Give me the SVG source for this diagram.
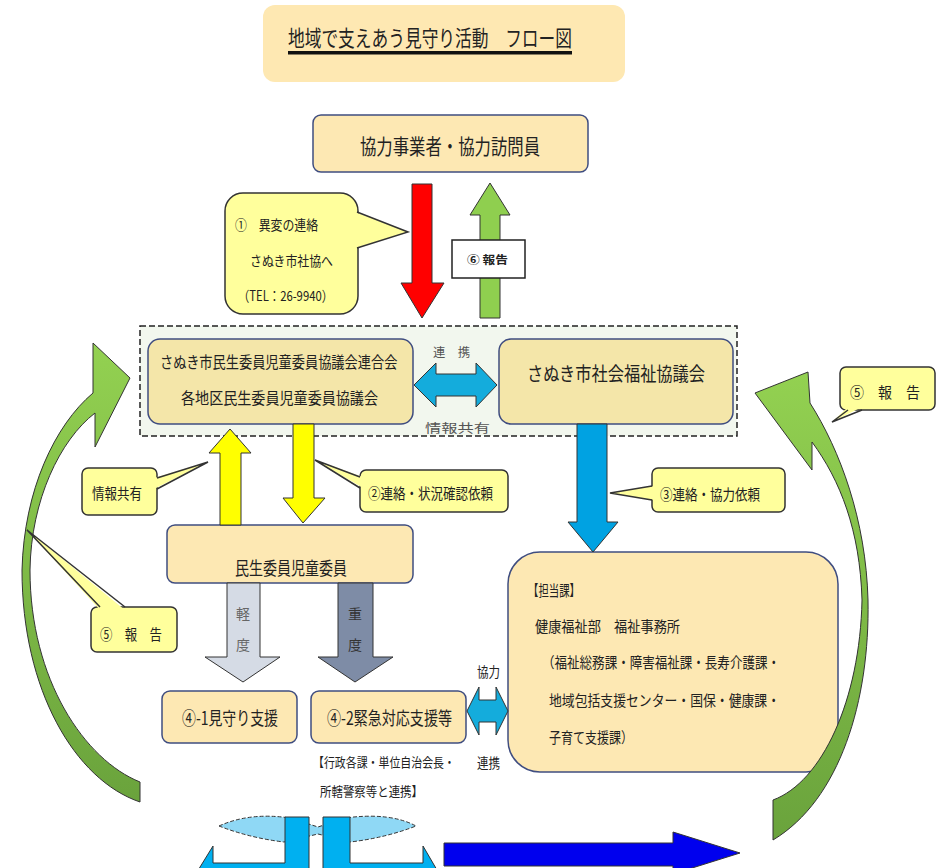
<svg xmlns="http://www.w3.org/2000/svg" width="936" height="868" viewBox="0 0 936 868">
<defs>
<linearGradient id="gr" x1="0" y1="0" x2="0" y2="1">
<stop offset="0" stop-color="#93d151"/>
<stop offset="1" stop-color="#6aa33c"/>
</linearGradient>
<style>
text{font-family:"Noto Sans CJK JP","Noto Sans CJK SC",sans-serif;fill:#222;}
.node{fill:#fde8b3;stroke:#3f4d80;stroke-width:1.5;}
.node2{fill:#f4e6a9;stroke:#3f4d80;stroke-width:1.5;}
.cf{fill:#ffff9c;stroke:none;}
.cr{fill:#ffff9c;stroke:#333;stroke-width:1.5;}
.cs{fill:none;stroke:#333;stroke-width:1.5;}
.ar{stroke:#333;stroke-width:1;}
</style>
</defs>
<rect width="936" height="868" fill="#ffffff"/>

<g id="title">
<rect x="263" y="5" width="362" height="77" rx="12" fill="#fee8b2"/>
<text x="288" y="46" font-size="22" textLength="284" lengthAdjust="spacingAndGlyphs">地域で支えあう見守り活動　フロー図</text>
<rect x="288" y="51" width="284" height="3.5" fill="#111"/>
</g>

<g id="container">
<rect x="140" y="326" width="597" height="110" fill="#f2f7ee" stroke="#222" stroke-width="1.5" stroke-dasharray="6 3"/>
</g>

<g id="node-kyoryoku">
<rect class="node" x="313" y="115" width="275" height="57" rx="8"/>
<text x="360" y="154" font-size="21" textLength="180" lengthAdjust="spacingAndGlyphs">協力事業者・協力訪問員</text>
</g>

<g id="node-minsei-kyogikai">
<rect class="node2" x="148" y="339" width="265" height="85" rx="12"/>
<text transform="translate(160,368) scale(0.826,1)" font-size="16">さぬき市民生委員児童委員協議会連合会</text>
<text x="181" y="404" font-size="16" textLength="197" lengthAdjust="spacingAndGlyphs">各地区民生委員児童委員協議会</text>
</g>

<g id="node-shakyo">
<rect class="node2" x="499" y="339" width="234" height="85" rx="12"/>
<text x="527" y="381" font-size="19" textLength="178" lengthAdjust="spacingAndGlyphs">さぬき市社会福祉協議会</text>
</g>

<g id="node-minsei">
<rect class="node" x="167" y="525" width="246" height="58" rx="8"/>
<text x="235" y="575" font-size="18" textLength="112" lengthAdjust="spacingAndGlyphs">民生委員児童委員</text>
</g>

<g id="node-mimamori">
<rect class="node" x="162" y="691" width="135" height="52" rx="8"/>
<text x="182" y="725" font-size="18" textLength="96" lengthAdjust="spacingAndGlyphs">④-1見守り支援</text>
</g>

<g id="node-kinkyu">
<rect class="node" x="311" y="691" width="155" height="52" rx="8"/>
<text x="327" y="725" font-size="18" textLength="125" lengthAdjust="spacingAndGlyphs">④-2緊急対応支援等</text>
<text transform="translate(313,767) scale(0.84,1)" font-size="13">【行政各課・単位自治会長・</text>
<text x="320" y="796" font-size="13" textLength="103" lengthAdjust="spacingAndGlyphs">所轄警察等と連携】</text>
</g>

<g id="node-tanto">
<rect class="node" x="508" y="552" width="330" height="220" rx="32"/>
<text x="528" y="596" font-size="15" textLength="52" lengthAdjust="spacingAndGlyphs">【担当課】</text>
<text x="535" y="632" font-size="15" textLength="145" lengthAdjust="spacingAndGlyphs">健康福祉部　福祉事務所</text>
<text x="542" y="668" font-size="15" textLength="238" lengthAdjust="spacingAndGlyphs">（福祉総務課・障害福祉課・長寿介護課・</text>
<text x="549" y="706" font-size="15" textLength="231" lengthAdjust="spacingAndGlyphs">地域包括支援センター・国保・健康課・</text>
<text x="549" y="743" font-size="15" textLength="84" lengthAdjust="spacingAndGlyphs">子育て支援課）</text>
</g>

<g id="connectors">
<polygon class="ar" fill="#ff0000" points="412,184 432,184 432,283 444,283 422,318 401,283 412,283"/>
<polygon class="ar" fill="#8fcf4f" points="490,183 510,215 500,215 500,318 480,318 480,215 470,215"/>
<rect x="452" y="240" width="73" height="38" fill="#ffffff" stroke="#222" stroke-width="1.5"/>
<text x="467" y="264" font-size="11" font-weight="bold" textLength="41" lengthAdjust="spacingAndGlyphs">⑥ 報告</text>
<polygon class="ar" fill="#14acdc" points="414,385 436,363 436,374 476,374 476,363 497,385 476,407 476,396 436,396 436,407"/>
<text x="433" y="357" font-size="12" textLength="37" lengthAdjust="spacingAndGlyphs" style="fill:#555">連　携</text>
<text x="425" y="433" font-size="12" textLength="65" lengthAdjust="spacingAndGlyphs" style="fill:#555">情報共有</text>
<polygon class="ar" fill="#ffff00" points="230,429 251,453 241,453 241,525 220,525 220,453 209,453"/>
<polygon class="ar" fill="#ffff00" points="293,424 314,424 314,498 325,498 303,523 283,498 293,498"/>
<polygon class="ar" fill="#00a2e2" points="577,424 607,424 607,522 618,522 593,552 568,522 577,522"/>
<polygon class="ar" fill="#d5dbe5" points="227,583 260,583 260,657 280,657 243,682 205,657 227,657"/>
<text x="243" y="619" font-size="14" text-anchor="middle" style="fill:#666">軽</text>
<text x="243" y="650" font-size="14" text-anchor="middle" style="fill:#666">度</text>
<polygon class="ar" fill="#7e8ca6" points="338,583 373,583 373,657 393,657 355,682 318,657 338,657"/>
<text x="355" y="619" font-size="14" text-anchor="middle" style="fill:#333">重</text>
<text x="355" y="650" font-size="14" text-anchor="middle" style="fill:#333">度</text>
<polygon class="ar" fill="#14acdc" points="467,711 479,687 479,700 496,700 496,687 508,711 496,735 496,722 479,722 479,735"/>
<text x="477" y="677" font-size="14" textLength="23" lengthAdjust="spacingAndGlyphs">協力</text>
<text x="477" y="768" font-size="14" textLength="23" lengthAdjust="spacingAndGlyphs">連携</text>
<path class="ar" fill="url(#gr)" d="M755 393 L808 372 L810 403 C840 450 866 520 868 600 C870 700 840 800 773 840 L773 800 C822 782 860 700 862 600 C860 530 840 480 812 442 L812 470 Z"/>
<path class="ar" fill="url(#gr)" d="M130 378 L93 343 L93 393 C55 425 24 490 22 570 C22 690 75 780 140 802 L140 782 C85 760 30 680 30 570 C31 500 60 440 95 413 L95 447 Z"/>
<path fill="#8fd8f5" stroke="#333" stroke-width="1" stroke-dasharray="4 2" d="M219 826 Q250 812 290 818 L318 827 L345 818 Q390 812 416 826 Q385 838 350 842 L318 834 L284 842 Q250 838 219 826 Z"/>
<polygon class="ar" fill="#00b0f0" points="197,872 213,846 213,863 285,863 285,817 309,817 309,880 213,880 213,898"/>
<polygon class="ar" fill="#00b0f0" points="323,817 350,817 350,863 423,863 423,846 437,870 423,894 423,880 323,880"/>
<polygon class="ar" fill="#0000ee" points="444,843 673,843 673,832 740,853 673,874 673,866 444,866"/>
</g>

<g id="callout-ihen">
<rect class="cr" x="225" y="193" width="133" height="121" rx="18"/>
<polygon class="cf" points="355,212 408,232 355,248"/>
<polyline class="cs" points="357,212 408,232 357,248"/>
<text x="235" y="230" font-size="14" textLength="83" lengthAdjust="spacingAndGlyphs">①　異変の連絡</text>
<text x="250" y="266" font-size="14" textLength="83" lengthAdjust="spacingAndGlyphs">さぬき市社協へ</text>
<text x="238" y="301" font-size="14" textLength="95" lengthAdjust="spacingAndGlyphs">（TEL：26-9940）</text>
</g>

<g id="callout-joho">
<rect class="cr" x="82" y="468" width="75" height="47" rx="6"/>
<polygon class="cf" points="154,478 208,462 154,489"/>
<polyline class="cs" points="157,478 208,462 157,489"/>
<text x="92" y="499" font-size="15" textLength="50" lengthAdjust="spacingAndGlyphs">情報共有</text>
</g>

<g id="callout-2">
<rect class="cr" x="360" y="470" width="148" height="42" rx="6"/>
<polygon class="cf" points="363,477 315,460 363,488"/>
<polyline class="cs" points="360,477 315,460 360,488"/>
<text x="368" y="499" font-size="15" textLength="125" lengthAdjust="spacingAndGlyphs">②連絡・状況確認依頼</text>
</g>

<g id="callout-3">
<rect class="cr" x="652" y="468" width="133" height="44" rx="6"/>
<polygon class="cf" points="655,486 610,493 655,500"/>
<polyline class="cs" points="652,486 610,493 652,500"/>
<text x="660" y="500" font-size="15" textLength="100" lengthAdjust="spacingAndGlyphs">③連絡・協力依頼</text>
</g>

<g id="callout-5r">
<rect class="cr" x="840" y="367" width="95" height="43" rx="6"/>
<polygon class="cf" points="848,407 832,422 862,407"/>
<polyline class="cs" points="848,410 832,422 862,410"/>
<text x="850" y="398" font-size="15" textLength="70" lengthAdjust="spacingAndGlyphs">⑤　報　告</text>
</g>

<g id="callout-5l">
<rect class="cr" x="91" y="607" width="86" height="45" rx="6"/>
<polygon class="cf" points="100,610 27,530 125,610"/>
<polyline class="cs" points="100,607 27,530 125,607"/>
<text x="100" y="640" font-size="15" textLength="62" lengthAdjust="spacingAndGlyphs">⑤　報　告</text>
</g>
</svg>
